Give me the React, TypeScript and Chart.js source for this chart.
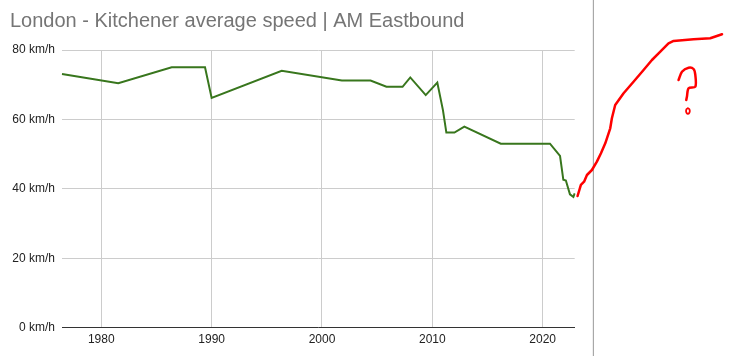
import React, { useEffect, useRef } from "react";
import { Chart, registerables } from "chart.js";

Chart.register(...registerables);

const TITLE = "London - Kitchener average speed | AM Eastbound";

// Observed data (decimal year, km/h)
const speedYears = [
  1976.44, 1981.54, 1986.38, 1989.4, 1990.0, 1996.35, 2001.8, 2004.4, 2005.84,
  2007.3, 2008.0, 2009.4, 2010.45, 2010.96, 2011.27, 2012.0, 2012.9, 2016.2,
  2020.66, 2021.57, 2021.87, 2022.1, 2022.47, 2022.78, 2022.9,
];
const speedValues = [
  73.1, 70.4, 75.0, 75.0, 66.2, 74.0, 71.2, 71.2, 69.4, 69.4, 72.1, 67.0, 70.6,
  62.7, 56.2, 56.2, 57.9, 53.0, 53.0, 49.5, 42.6, 42.4, 38.4, 37.7, 38.7,
];

// Hand-drawn red annotation (in the same year / km/h units)
const scribbleYears = [
  2023.16, 2023.46, 2023.75, 2024.01, 2024.46, 2024.91, 2025.28, 2025.67,
  2026.12, 2026.27, 2026.57, 2027.33, 2028.23, 2029.14, 2029.9, 2030.5, 2030.95,
  2031.4, 2031.86, 2033.67, 2035.18, 2036.25,
];
const scribbleValues = [
  37.94, 41.16, 42.06, 43.99, 45.43, 47.83, 50.24, 53.13, 57.45, 60.33, 64.16,
  67.53, 70.87, 74.24, 77.12, 79.05, 80.5, 81.94, 82.6, 83.09, 83.38, 84.53,
];
const questionYears = [
  2032.31, 2032.62, 2033.22, 2033.67, 2033.83, 2033.83, 2033.22, 2033.07, 2033.01,
];
const questionValues = [71.36, 73.75, 74.91, 74.53, 72.81, 69.43, 68.97, 66.55, 65.6];
const questionDotYears = [
  2033.16, 2033.28, 2033.33, 2033.28, 2033.16, 2033.04, 2032.99, 2033.04, 2033.16,
];
const questionDotValues = [63.23, 63.0, 62.43, 61.86, 61.63, 61.86, 62.43, 63.0, 63.23];

// Vertical separator line
const separatorYears = [2024.59, 2024.59];
const separatorValues = [-20, 110];

const xMin = 1976.44;
const xMax = 2022.9;
const xTicks = [1980, 1990, 2000, 2010, 2020];
const yTicks = [0, 20, 40, 60, 80];

const FONT = "'Liberation Sans', Arial, sans-serif";

const pts = (xs: number[], ys: number[]) => xs.map((x, i) => ({ x, y: ys[i] }));

export default function App() {
  const ref = useRef<HTMLCanvasElement | null>(null);

  useEffect(() => {
    document.body.style.margin = "0";
    const canvas = ref.current;
    if (!canvas) return;
    const red = {
      borderColor: "#ff0000",
      borderWidth: 2.5,
      borderJoinStyle: "round",
      borderCapStyle: "round",
      pointRadius: 0,
      clip: false,
      order: 1,
    };
    const chart = new Chart(canvas, {
      type: "line",
      data: {
        datasets: [
          { ...red, data: pts(scribbleYears, scribbleValues) },
          { ...red, data: pts(questionYears, questionValues), tension: 0.3 },
          {
            ...red,
            data: pts(questionDotYears, questionDotValues),
            borderWidth: 1.8,
            tension: 0.4,
          },
          {
            data: pts(speedYears, speedValues),
            borderColor: "#38761d",
            borderWidth: 2,
            pointRadius: 0,
            tension: 0,
            order: 2,
          },
          {
            data: pts(separatorYears, separatorValues),
            borderColor: "#999999",
            borderWidth: 1,
            pointRadius: 0,
            clip: false,
            order: 3,
          },
        ],
      },
      options: {
        responsive: false,
        animation: false,
        layout: { padding: { left: 10, right: 166.3, top: 0, bottom: 0 } },
        plugins: {
          legend: { display: false },
          tooltip: { enabled: false },
          title: {
            display: true,
            text: TITLE,
            align: "start",
            color: "#757575",
            font: { family: FONT, size: 20, weight: "normal" },
            padding: { top: 9, bottom: 17 },
          },
        },
        scales: {
          x: {
            type: "linear",
            bounds: "data",
            afterDataLimits: (s: any) => {
              s.min = xMin;
              s.max = xMax;
            },
            afterBuildTicks: (s: any) => {
              s.ticks = xTicks.map((v) => ({ value: v }));
            },
            afterFit: (s: any) => {
              s.height = 28.3;
            },
            grid: { color: "#cccccc", drawTicks: false, lineWidth: 1 },
            border: { display: true, color: "#333333", width: 1 },
            ticks: {
              padding: 5,
              maxRotation: 0,
              autoSkip: false,
              color: "#222222",
              font: { family: FONT, size: 12 },
              callback: (v: any) => String(v),
            },
          },
          y: {
            type: "linear",
            min: 0,
            max: 80,
            afterFit: (s: any) => {
              s.width = 52;
            },
            afterBuildTicks: (s: any) => {
              s.ticks = yTicks.map((v) => ({ value: v }));
            },
            grid: { color: "#cccccc", drawTicks: false, lineWidth: 1 },
            border: { display: false },
            ticks: {
              padding: 7,
              color: "#222222",
              font: { family: FONT, size: 12 },
              callback: (v: any) => `${v} km/h`,
            },
          },
        },
      },
    } as any);
    return () => chart.destroy();
  }, []);

  return <canvas ref={ref} width={741} height={356} style={{ display: "block" }} />;
}
